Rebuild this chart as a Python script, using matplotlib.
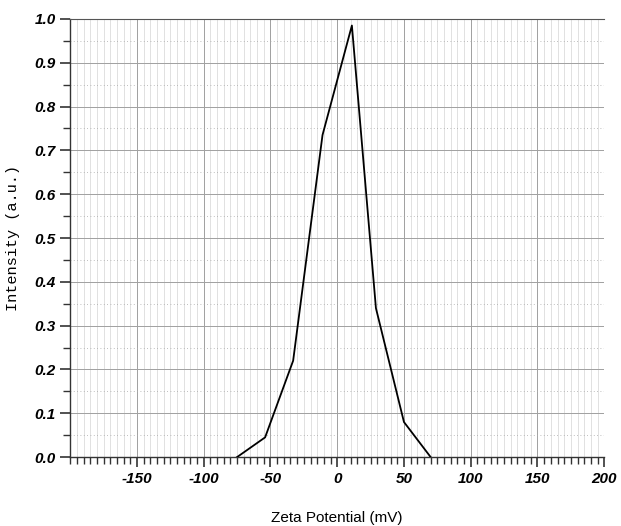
import numpy as np
import matplotlib.pyplot as plt
from matplotlib.ticker import MultipleLocator

# zeta potential distribution
zeta_mv = [-75, -54, -33, -11, 11, 29, 50, 70]
intensity = [0.0, 0.045, 0.22, 0.735, 0.985, 0.34, 0.08, 0.0]
x_ticks = [-150, -100, -50, 0, 50, 100, 150, 200]
y_ticks = [0.0, 0.1, 0.2, 0.3, 0.4, 0.5, 0.6, 0.7, 0.8, 0.9, 1.0]

fig = plt.figure(figsize=(6.21, 5.26), dpi=100)
ax = fig.add_axes([0.113, 0.131, 0.860, 0.833])

ax.plot(zeta_mv, intensity, color='black', lw=1.3, zorder=3)

ax.set_xlim(-200, 200)
ax.set_ylim(0, 1.0)
ax.set_xticks(x_ticks)
ax.set_yticks(y_ticks)
ax.xaxis.set_minor_locator(MultipleLocator(5))
ax.yaxis.set_minor_locator(MultipleLocator(0.05))

# graph-paper style grid
ax.grid(which='major', color='#a0a0a0', lw=0.7)
ax.grid(which='minor', axis='x', color='#d4d4d4', lw=0.5)
ax.grid(which='minor', axis='y', color='#a8a8a8', lw=0.6, ls=(0, (1, 3)))
ax.set_axisbelow(True)

ax.spines['right'].set_visible(False)
ax.spines['top'].set_color('#555555')
for s in ['left', 'bottom']:
    ax.spines[s].set_color('#333333')
    ax.spines[s].set_linewidth(1.0)

ax.tick_params(which='major', length=7, width=1.2, color='#333333')
ax.tick_params(which='minor', length=5, width=1.0, color='#333333')

lab_font = dict(family='Liberation Sans', weight='bold', style='italic', size=11)
ax.set_xticklabels([str(v) for v in x_ticks], **lab_font)
ax.set_yticklabels([f"{v:.1f}" for v in y_ticks], **lab_font)

ax.set_xlabel("Zeta Potential (mV)", family='Liberation Sans', size=11, labelpad=18)
ax.set_ylabel("Intensity (a.u.)", family='Liberation Mono', size=11, labelpad=10)

fig.savefig("out.png", dpi=100)
